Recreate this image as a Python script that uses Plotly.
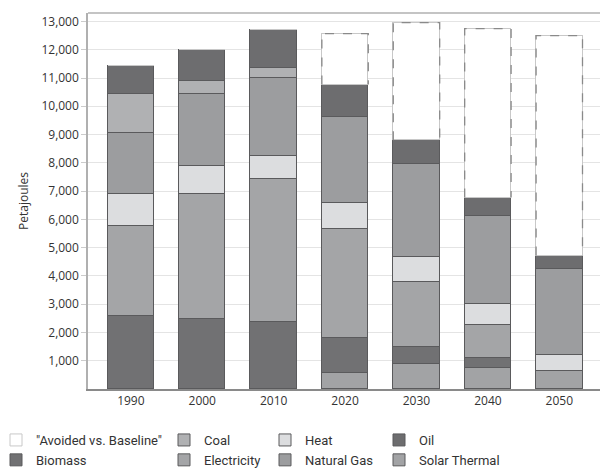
import plotly.graph_objects as go

# ---- data (Petajoules, stacked segments) ----
years = [1990, 2000, 2010, 2020, 2030, 2040, 2050]
solar_thermal = [0, 0, 0, 560, 880, 740, 630]
biomass = [2570, 2460, 2360, 1240, 600, 350, 0]
electricity = [3200, 4440, 5070, 3870, 2320, 1160, 0]
heat = [1130, 990, 810, 910, 880, 770, 570]
natural_gas = [2150, 2530, 2750, 3030, 3280, 3110, 3060]
coal = [1370, 460, 350, 0, 0, 0, 0]
oil = [990, 1120, 1370, 1160, 840, 640, 460]
avoided = [0, 0, 0, 1800, 4160, 5980, 7780]
y_tick_vals = [1000, 2000, 3000, 4000, 5000, 6000, 7000, 8000, 9000, 10000, 11000, 12000, 13000]
y_tick_text = ["1,000", "2,000", "3,000", "4,000", "5,000", "6,000", "7,000",
               "8,000", "9,000", "10,000", "11,000", "12,000", "13,000"]
x_tick_text = ["1990", "2000", "2010", "2020", "2030", "2040", "2050"]

BAR_W = 6.5
EDGE = "#5a5a5c"
TXT = "#333333"

W, H = 603, 468
ML, MR, MT, MB = 88, 3, 13, 79
PW = W - ML - MR

series = [
    # name, values, color, legend, rank
    ("Solar Thermal", solar_thermal, "#a2a3a5", "legend4", 8),
    ("Biomass", biomass, "#717173", "legend", 2),
    ("Electricity", electricity, "#a4a5a7", "legend2", 4),
    ("Heat", heat, "#dcdddf", "legend3", 5),
    ("Natural Gas", natural_gas, "#9c9d9f", "legend3", 6),
    ("Coal", coal, "#b0b1b3", "legend2", 3),
    ("Oil", oil, "#6d6d6f", "legend4", 7),
]

fig = go.Figure()
for name, vals, color, leg, rank in series:
    fig.add_trace(go.Bar(
        x=years, y=vals, name=name, width=BAR_W,
        marker=dict(color=color, line=dict(color=EDGE, width=1)),
        legend=leg, legendrank=rank,
    ))

fig.add_trace(go.Bar(
    x=years, y=avoided, name='"Avoided vs. Baseline"', width=BAR_W,
    marker=dict(color="white", line=dict(color="#c8c8c8", width=1)),
    legend="legend", legendrank=1,
))

# dashed outline for the avoided segments, derived from the data
totals = [sum(v) for v in zip(solar_thermal, biomass, electricity, heat, natural_gas, coal, oil)]
ox, oy = [], []
for yr, base, a in zip(years, totals, avoided):
    if a > 0:
        ox += [yr - BAR_W / 2, yr - BAR_W / 2, yr + BAR_W / 2, yr + BAR_W / 2, None]
        oy += [base, base + a, base + a, base, None]
fig.add_trace(go.Scatter(
    x=ox, y=oy, mode="lines", showlegend=False, hoverinfo="skip",
    line=dict(color="#8a8a8a", width=1.3, dash="dash"),
))


def px_x(px):
    return (px - ML) / PW


leg_common = dict(orientation="v", xref="paper", yref="container",
                  yanchor="top", xanchor="left", traceorder="normal",
                  font=dict(family="Roboto", size=13, color=TXT),
                  bgcolor="rgba(0,0,0,0)", borderwidth=0, itemwidth=30,
                  tracegroupgap=0)
ly = 1 - 425 / H

fig.update_layout(
    width=W, height=H,
    margin=dict(l=ML, r=MR, t=MT, b=MB, autoexpand=False),
    paper_bgcolor="white", plot_bgcolor="white",
    barmode="stack", bargap=0,
    font=dict(family="Open Sans", size=12, color=TXT),
    legend=dict(x=px_x(-4), y=ly, **leg_common),
    legend2=dict(x=px_x(164), y=ly, **leg_common),
    legend3=dict(x=px_x(265), y=ly, **leg_common),
    legend4=dict(x=px_x(379), y=ly, **leg_common),
    xaxis=dict(
        type="linear",
        range=[1984, 2055.7], tickvals=years, ticktext=x_tick_text,
        showgrid=False, zeroline=False, showline=True,
        linecolor="#8a8a8a", linewidth=2, ticks="",
        tickfont=dict(family="Open Sans", size=12, color=TXT),
    ),
    yaxis=dict(
        type="linear",
        range=[0, 13300], tickvals=y_tick_vals, ticktext=y_tick_text,
        showgrid=True, gridcolor="#e4e4e4", gridwidth=1,
        zeroline=False, showline=True, linecolor="#b0b0b0", linewidth=1.5,
        ticks="outside", ticklen=5, tickcolor="#cccccc",
        tickfont=dict(family="Open Sans", size=12, color=TXT),
    ),
    annotations=[dict(text="Petajoules", xref="paper", yref="paper",
                      x=px_x(23), y=0.5, xanchor="center", yanchor="middle",
                      textangle=-90, showarrow=False,
                      font=dict(family="Open Sans", size=12, color=TXT))],
    shapes=[dict(type="line", xref="paper", yref="paper", x0=0, x1=1, y0=1, y1=1,
                 line=dict(color="#b0b0b0", width=1.5))],
)

fig.write_html("out.html", config={"displayModeBar": False},
               post_script="document.body.style.margin='0';document.body.style.overflow='hidden';")
